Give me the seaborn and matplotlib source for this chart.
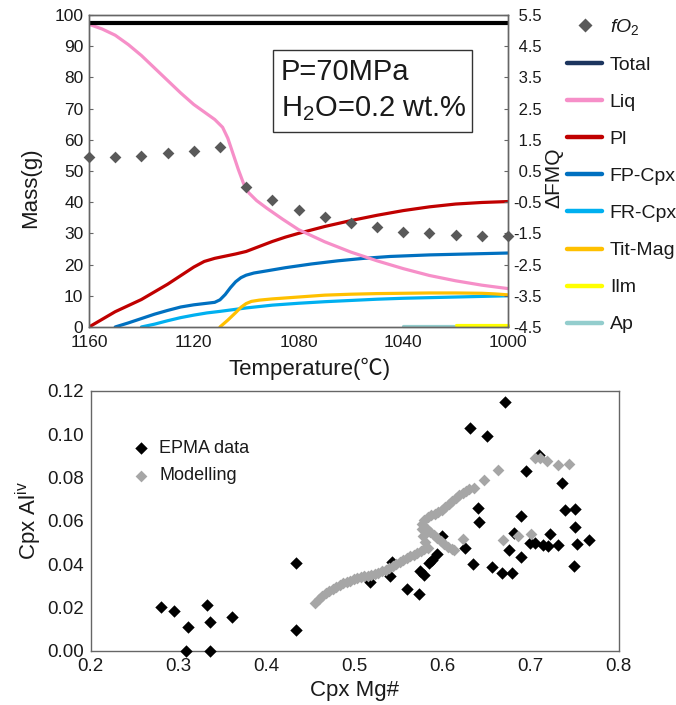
import matplotlib
matplotlib.use("Agg")
import matplotlib.pyplot as plt
from matplotlib.lines import Line2D
from matplotlib.patches import Rectangle
import seaborn as sns

# ---------------- data ----------------
# Phase masses (g) along the cooling path
temp_total = [1160, 1000]
mass_total = [97.5, 97.5]

temp_liq = [1160, 1155, 1150, 1145, 1140, 1135, 1130, 1125, 1120, 1115, 1112,
            1109, 1107, 1105, 1103, 1101, 1099, 1096, 1092, 1086, 1080, 1070,
            1060, 1050, 1040, 1030, 1020, 1010, 1000]
mass_liq = [97, 95.5, 93.5, 90.5, 87, 83, 79, 75, 71.3, 68.3, 66.5,
            64, 60.5, 55.5, 50.5, 46, 43, 40.5, 38, 34.5, 31.2, 27.3,
            24, 21.2, 18.7, 16.5, 14.8, 13.4, 12.3]

temp_pl = [1160, 1150, 1140, 1130, 1124, 1120, 1116, 1112, 1108, 1104, 1100,
           1095, 1090, 1085, 1080, 1070, 1060, 1050, 1040, 1030, 1020, 1010, 1000]
mass_pl = [0, 4.9, 8.8, 13.7, 17, 19.2, 21, 22, 22.7, 23.4, 24.2,
           25.8, 27.4, 28.8, 30, 32.2, 34.1, 35.8, 37.3, 38.5, 39.4, 39.9, 40.2]

temp_fp = [1150, 1145, 1140, 1135, 1130, 1125, 1120, 1116, 1112, 1110, 1108,
           1106, 1104, 1102, 1100, 1097, 1092, 1085, 1075, 1065, 1055, 1045,
           1030, 1015, 1000]
mass_fp = [0, 1.3, 2.7, 4.1, 5.3, 6.4, 7.1, 7.5, 7.9, 8.7, 10.4,
           12.6, 14.5, 15.8, 16.6, 17.3, 18, 19, 20.2, 21.2, 22, 22.6,
           23.1, 23.4, 23.7]

temp_fr = [1140, 1135, 1130, 1125, 1120, 1115, 1110, 1100, 1090, 1080, 1070,
           1060, 1050, 1040, 1030, 1020, 1010, 1000]
mass_fr = [0, 0.9, 2, 3, 3.8, 4.5, 5, 6.1, 7, 7.6, 8.1,
           8.5, 8.9, 9.2, 9.4, 9.6, 9.8, 10.0]

temp_mag = [1110, 1107, 1104, 1102, 1100, 1098, 1095, 1090, 1080, 1070, 1060,
            1050, 1040, 1030, 1020, 1010, 1005, 1000]
mass_mag = [0, 2.2, 4.6, 6.3, 7.5, 8.2, 8.6, 9, 9.6, 10.2, 10.5,
            10.7, 10.8, 10.9, 10.9, 10.8, 10.6, 10.3]

temp_ilm = [1020, 1000]
mass_ilm = [0.5, 0.5]

temp_ap = [1040, 1000]
mass_ap = [0.3, 0.3]

# Oxygen fugacity relative to FMQ buffer
temp_fo2 = [1160, 1150, 1140, 1130, 1120, 1110, 1100, 1090, 1080, 1070, 1060,
            1050, 1040, 1030, 1020, 1010, 1000]
dfmq = [0.95, 0.95, 0.98, 1.07, 1.15, 1.28, 0.0, -0.43, -0.75, -0.98, -1.18,
        -1.31, -1.45, -1.50, -1.55, -1.57, -1.57]

# Clinopyroxene Mg# vs Al(iv): microprobe analyses
epma_mg = [0.280, 0.295, 0.310, 0.308, 0.3325, 0.335, 0.3356, 0.361, 0.4333, 0.4333,
           0.6708, 0.631, 0.650, 0.7094, 0.6947, 0.7352, 0.6398, 0.6416, 0.6886,
           0.7393, 0.7503, 0.7503, 0.7523, 0.7663, 0.7496, 0.7219, 0.714, 0.720,
           0.731, 0.699, 0.705, 0.6814, 0.6753, 0.6886, 0.6678, 0.6784, 0.6564,
           0.6341, 0.6253, 0.5996, 0.5932, 0.5875, 0.5841, 0.5742, 0.5791,
           0.559, 0.573, 0.542, 0.540, 0.5174]
epma_al = [0.0203, 0.0183, 0.0111, 0.0, 0.0211, 0.0134, 0.0, 0.0154, 0.0405, 0.0096,
           0.1146, 0.1029, 0.0991, 0.0903, 0.0831, 0.0775, 0.0660, 0.0592, 0.0623,
           0.0649, 0.0653, 0.0572, 0.0491, 0.0511, 0.0391, 0.0537, 0.0488, 0.0485,
           0.0488, 0.0496, 0.0496, 0.0542, 0.0465, 0.0434, 0.0357, 0.0360, 0.0388,
           0.0400, 0.0475, 0.0531, 0.0446, 0.0419, 0.0403, 0.0368, 0.0349,
           0.0285, 0.0262, 0.0411, 0.0346, 0.0318]

# Clinopyroxene compositions from the crystallisation model
model_mg = [0.455, 0.459, 0.463, 0.467, 0.471, 0.475, 0.479, 0.483, 0.487, 0.491,
            0.495, 0.499, 0.503, 0.507, 0.511, 0.515, 0.519, 0.523, 0.527, 0.531,
            0.535, 0.539, 0.543, 0.547, 0.551, 0.555, 0.559, 0.563, 0.567, 0.571,
            0.575, 0.579, 0.583,
            0.582, 0.586, 0.590, 0.594, 0.598, 0.602, 0.606, 0.610, 0.613,
            0.580, 0.578, 0.577, 0.577, 0.579, 0.583, 0.587, 0.591, 0.595, 0.599,
            0.603, 0.607, 0.611, 0.615, 0.619, 0.623, 0.627, 0.630,
            0.636, 0.647, 0.663, 0.705, 0.711, 0.718, 0.731, 0.743,
            0.6234, 0.6689, 0.6852, 0.7003]
model_al = [0.0222, 0.0238, 0.0252, 0.0265, 0.0276, 0.0286, 0.0295, 0.0303, 0.0311, 0.0318,
            0.0324, 0.0330, 0.0335, 0.0339, 0.0343, 0.0347, 0.0351, 0.0355, 0.0360, 0.0366,
            0.0373, 0.0381, 0.0390, 0.0399, 0.0408, 0.0417, 0.0426, 0.0435, 0.0444, 0.0452,
            0.0460, 0.0468, 0.0476,
            0.0560, 0.0550, 0.0535, 0.0520, 0.0505, 0.0492, 0.0480, 0.0470, 0.0465,
            0.0500, 0.0530, 0.0560, 0.0585, 0.0605, 0.0618, 0.0626, 0.0633, 0.0640, 0.0650,
            0.0663, 0.0677, 0.0692, 0.0706, 0.0718, 0.0729, 0.0739, 0.0746,
            0.0752, 0.0788, 0.0834, 0.0888, 0.0888, 0.0877, 0.0857, 0.0862,
            0.0516, 0.0511, 0.0529, 0.0539]

mass_ticks = list(range(0, 101, 10))
temp_ticks = list(range(1160, 999, -20))
temp_ticklabels = ["1160", "", "1120", "", "1080", "", "1040", "", "1000"]
dfmq_ticks = [-4.5, -3.5, -2.5, -1.5, -0.5, 0.5, 1.5, 2.5, 3.5, 4.5, 5.5]
mg_ticks = [0.2, 0.3, 0.4, 0.5, 0.6, 0.7, 0.8]
al_ticks = [0.0, 0.02, 0.04, 0.06, 0.08, 0.10, 0.12]

# ---------------- style ----------------
sns.set_style("white")
plt.rcParams["font.family"] = ["Liberation Sans", "Noto Sans CJK SC", "DejaVu Sans"]
plt.rcParams["mathtext.fontset"] = "custom"
plt.rcParams["mathtext.rm"] = "Liberation Sans"
plt.rcParams["mathtext.it"] = "Liberation Sans:italic"

SPINE = "#666666"
TXT = "#1a1a1a"

C_TOTAL = "#000000"
C_LIQ = "#f68fc8"
C_PL = "#c00000"
C_FP = "#0070c0"
C_FR = "#00b0f0"
C_MAG = "#ffc000"
C_ILM = "#ffff00"
C_AP = "#93cdcd"
C_FO2 = "#595959"

fig = plt.figure(figsize=(6.76, 7.05), dpi=100)
ax = fig.add_axes([0.1317, 0.5362, 0.6198, 0.4426])
ax2 = ax.twinx()
bx = fig.add_axes([0.1342, 0.0770, 0.7811, 0.3688])

# ---------------- top panel: phase masses ----------------
lw = 2.3
sns.lineplot(x=temp_ap, y=mass_ap, ax=ax, color=C_AP, lw=lw, clip_on=False)
sns.lineplot(x=temp_ilm, y=mass_ilm, ax=ax, color=C_ILM, lw=lw, clip_on=False)
sns.lineplot(x=temp_fr, y=mass_fr, ax=ax, color=C_FR, lw=lw)
sns.lineplot(x=temp_mag, y=mass_mag, ax=ax, color=C_MAG, lw=lw)
sns.lineplot(x=temp_fp, y=mass_fp, ax=ax, color=C_FP, lw=lw)
sns.lineplot(x=temp_pl, y=mass_pl, ax=ax, color=C_PL, lw=lw)
sns.lineplot(x=temp_liq, y=mass_liq, ax=ax, color=C_LIQ, lw=lw)
sns.lineplot(x=temp_total, y=mass_total, ax=ax, color=C_TOTAL, lw=3.0)

ax.set_xlim(1160, 1000)
ax.set_ylim(0, 100)
ax.set_xticks(temp_ticks)
ax.set_xticklabels(temp_ticklabels)
ax.set_yticks(mass_ticks)

sns.scatterplot(x=temp_fo2, y=dfmq, ax=ax2, color=C_FO2, marker="D", s=36,
                linewidth=0, clip_on=False, zorder=5)
ax2.set_ylim(-4.5, 5.5)
ax2.set_yticks(dfmq_ticks)
ax2.set_yticklabels([("%.1f" % v) if v < 0 else (" %.1f" % v) for v in dfmq_ticks])

for a in (ax, ax2):
    for sp in a.spines.values():
        sp.set_color(SPINE)
        sp.set_linewidth(1.0)
    a.tick_params(direction="in", length=3, width=0.8, color=SPINE,
                  labelsize=12.5, labelcolor=TXT, pad=4)
ax2.tick_params(labelsize=12)
ax.tick_params(axis="x", pad=6)

ax.set_xlabel("Temperature(\u2103)", fontsize=16, color=TXT)
ax.set_ylabel("Mass(g)", fontsize=16, color=TXT)
ax2.set_ylabel("\u0394FMQ", fontsize=15, color=TXT)
ax.xaxis.set_label_coords(0.527, -0.099)
ax.yaxis.set_label_coords(-0.115, 0.446)
ax2.yaxis.set_label_coords(1.086, 0.478)

# condition box
ax.add_patch(Rectangle((0.439, 0.626), 0.475, 0.262, transform=ax.transAxes,
                       facecolor="white", edgecolor="#333333", lw=1.0, zorder=6))
ax.text(0.458, 0.818, "P=70MPa", transform=ax.transAxes, fontsize=21,
        color=TXT, va="center", ha="left", zorder=7)
ax.text(0.458, 0.700, "H$_\\mathrm{2}$O=0.2 wt.%", transform=ax.transAxes,
        fontsize=21, color=TXT, va="center", ha="left", zorder=7)

handles = [
    Line2D([], [], ls="none", marker="D", ms=7, color=C_FO2, mec="none"),
    Line2D([], [], color="#1c355e", lw=3.2),
    Line2D([], [], color=C_LIQ, lw=3.2),
    Line2D([], [], color=C_PL, lw=3.2),
    Line2D([], [], color=C_FP, lw=3.2),
    Line2D([], [], color=C_FR, lw=3.2),
    Line2D([], [], color=C_MAG, lw=3.2),
    Line2D([], [], color=C_ILM, lw=3.2),
    Line2D([], [], color=C_AP, lw=3.2),
]
labels = ["$fO_\\mathrm{2}$", "Total", "Liq", "Pl", "FP-Cpx", "FR-Cpx",
          "Tit-Mag", "Ilm", "Ap"]
fig.legend(handles, labels, loc="upper left",
           bbox_to_anchor=(567 / 676, 1 - 17 / 705), frameon=False,
           fontsize=14, handlelength=1.8, handletextpad=0.4, labelspacing=1.0,
           borderpad=0, borderaxespad=0, labelcolor=TXT)

# ---------------- bottom panel: Cpx Mg# vs Al(iv) ----------------
sns.scatterplot(x=epma_mg, y=epma_al, ax=bx, color="#000000", marker="D", s=40,
                linewidth=0, clip_on=False, label="EPMA data", zorder=3)
sns.scatterplot(x=model_mg, y=model_al, ax=bx, color="#a6a6a6", marker="D", s=36,
                linewidth=0, clip_on=False, label="Modelling", zorder=4)
bx.set_xlim(0.2, 0.8)
bx.set_ylim(0, 0.12)
bx.set_xticks(mg_ticks)
bx.set_xticklabels(["%.1f" % v for v in mg_ticks])
bx.set_yticks(al_ticks)
bx.set_yticklabels(["%.2f" % v for v in al_ticks])
for sp in bx.spines.values():
    sp.set_color(SPINE)
    sp.set_linewidth(1.0)
bx.tick_params(direction="in", length=3, width=0.8, color=SPINE,
               labelsize=13.5, labelcolor=TXT, pad=5)
bx.set_xlabel("Cpx Mg#", fontsize=16, color=TXT)
bx.set_ylabel("Cpx Al$^\\mathrm{iv}$", fontsize=16, color=TXT)
bx.xaxis.set_label_coords(0.5, -0.113)
bx.yaxis.set_label_coords(-0.088, 0.5)
bx.legend(loc="upper left", bbox_to_anchor=(134 / 676, 1 - 440 / 705),
          bbox_transform=fig.transFigure, frameon=False, fontsize=13,
          handlelength=0.8, handletextpad=0.6, labelspacing=0.58, borderpad=0,
          borderaxespad=0, labelcolor=TXT)

fig.savefig("out.png", dpi=100)
